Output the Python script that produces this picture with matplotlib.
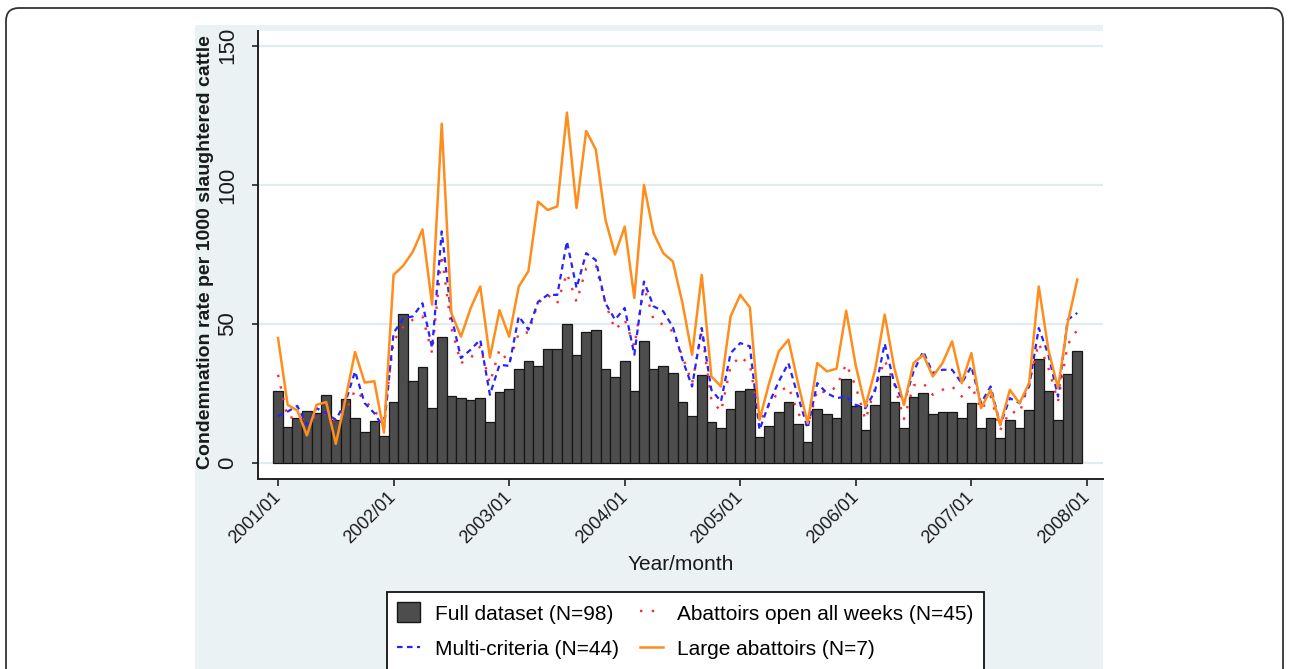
import matplotlib
matplotlib.use('Agg')
import matplotlib.pyplot as plt
import numpy as np
from matplotlib.patches import FancyBboxPatch, Rectangle, Patch
from matplotlib.lines import Line2D

plt.rcParams['font.family'] = ['Liberation Sans', 'DejaVu Sans']

# monthly values, 2001/01 .. 2007/12
tick_labels = ['2001/01', '2002/01', '2003/01', '2004/01',
               '2005/01', '2006/01', '2007/01', '2008/01']

full_dataset = [
    26.0, 12.9, 16.4, 18.7, 18.0, 24.4, 15.6, 23.0, 16.4, 11.2, 15.1, 9.8,
    22.2, 53.5, 29.6, 34.5, 20.0, 45.5, 24.3, 23.4, 22.8, 23.6, 15.0, 25.7,
    26.6, 33.8, 36.8, 34.8, 41.0, 41.0, 50.0, 39.0, 47.0, 48.0, 33.8, 31.0,
    36.8, 25.8, 44.1, 33.8, 34.8, 32.4, 22.2, 17.0, 31.8, 15.0, 12.6, 19.4,
    25.8, 26.6, 9.6, 13.4, 18.6, 22.2, 14.1, 7.8, 19.4, 17.7, 16.2, 30.3,
    20.7, 12.0, 20.8, 31.4, 22.2, 12.6, 23.7, 25.2, 17.7, 18.6, 18.6, 16.2,
    21.6, 12.6, 16.4, 9.2, 15.6, 12.6, 19.2, 37.5, 25.8, 15.6, 32.1, 40.4,
]

open_all_weeks = [
    31.8, 16.2, 16.8, 15.6, 16.8, 18.0, 15.0, 18.6, 26.3, 22.8, 18.6, 15.6,
    44.0, 49.0, 51.6, 52.8, 39.6, 75.0, 48.6, 36.0, 37.8, 42.0, 28.8, 40.8,
    36.0, 46.8, 47.0, 57.5, 60.5, 57.5, 68.3, 58.0, 70.0, 71.0, 57.5, 48.0,
    51.6, 42.0, 63.5, 51.6, 49.8, 47.4, 38.4, 28.8, 47.4, 22.8, 18.6, 34.8,
    38.4, 35.4, 15.0, 21.0, 25.8, 27.6, 18.0, 13.2, 26.4, 25.2, 27.5, 35.7,
    27.5, 15.6, 27.0, 37.0, 28.5, 15.9, 28.0, 28.8, 24.6, 26.4, 27.6, 24.0,
    28.2, 19.2, 24.0, 12.0, 18.6, 18.0, 28.8, 43.2, 34.2, 22.2, 42.6, 48.0,
]

multi_criteria = [
    17.0, 18.6, 20.6, 13.8, 19.8, 18.0, 15.6, 22.0, 33.0, 21.6, 18.0, 12.6,
    46.8, 52.0, 52.8, 57.5, 41.4, 83.3, 52.8, 37.8, 40.8, 44.4, 24.6, 35.4,
    35.0, 52.8, 48.0, 58.0, 60.5, 60.5, 79.7, 63.0, 75.5, 73.0, 57.5, 51.6,
    55.8, 39.0, 65.3, 56.4, 54.6, 49.0, 37.2, 27.6, 48.6, 26.4, 22.2, 39.6,
    43.2, 42.0, 12.0, 21.6, 29.4, 36.0, 24.0, 12.6, 28.8, 25.2, 23.4, 24.0,
    21.0, 19.8, 26.0, 43.0, 28.7, 21.6, 33.0, 40.2, 32.4, 33.6, 33.6, 28.8,
    34.8, 21.6, 27.6, 13.8, 23.4, 21.6, 27.6, 48.6, 39.0, 24.0, 51.6, 54.0,
]

large_abattoirs = [
    45.0, 21.0, 19.0, 10.0, 21.0, 22.0, 7.0, 23.0, 40.0, 29.0, 29.5, 11.0,
    67.7, 71.0, 76.0, 84.0, 57.0, 122.0, 54.0, 45.5, 55.7, 63.5, 38.0, 55.0,
    45.5, 63.5, 69.0, 94.0, 91.0, 92.3, 126.0, 91.7, 119.4, 112.7, 87.5, 75.0,
    85.0, 59.4, 100.0, 82.7, 75.5, 72.5, 57.5, 39.0, 67.7, 31.2, 27.6, 52.8,
    60.5, 56.0, 15.6, 28.8, 40.2, 44.4, 28.8, 14.4, 36.0, 33.0, 34.0, 54.8,
    35.0, 20.4, 33.5, 53.4, 34.2, 21.0, 36.0, 39.0, 31.2, 36.0, 43.8, 28.8,
    39.6, 19.8, 26.4, 13.8, 26.4, 21.6, 28.8, 63.5, 40.8, 27.0, 50.4, 66.0,
]

yticks = [0, 50, 100, 150]

months = np.arange(len(full_dataset))
tick_pos = np.arange(0, 12 * len(tick_labels), 12)

W, H = 1290, 669
fig = plt.figure(figsize=(W / 100, H / 100), dpi=100, facecolor='white')

# light graph region behind everything
fig.patches.append(Rectangle((195 / W, 0), 908 / W, 1 - 25 / H,
                             transform=fig.transFigure, facecolor='#EAF2F3',
                             edgecolor='none', zorder=-2))
# rounded outer frame (bottom cut off by the image edge)
fig.patches.append(FancyBboxPatch((0.06, -0.5), 12.77, 6.61 + 0.5,
                                  boxstyle='round,pad=0,rounding_size=0.13',
                                  transform=fig.dpi_scale_trans, fill=False,
                                  edgecolor='#333333', linewidth=1.3, zorder=-1))

ax = fig.add_axes([258 / W, 1 - 479 / H, 845 / W, 448 / H])
ax.set_facecolor('white')
ax.set_xlim(-2.08, 85.67)
ax.set_ylim(-5.64, 155.3)

for y in yticks:
    ax.axhline(y, color='#E2ECEF', linewidth=1.6, zorder=1)

ax.bar(months, full_dataset, width=1.0, color='#4d4d4d', edgecolor='#161616',
       linewidth=0.9, zorder=2)
ax.plot(months, open_all_weeks, color='#FF2A2A', linestyle=(0, (1, 4)),
        linewidth=1.7, zorder=3)
ax.plot(months, multi_criteria, color='#2424FF', linestyle=(0, (2.5, 2)),
        linewidth=1.6, zorder=4)
ax.plot(months, large_abattoirs, color='#FF8D1C', linewidth=1.8, zorder=5)

for side in ['top', 'right']:
    ax.spines[side].set_visible(False)
for side in ['left', 'bottom']:
    ax.spines[side].set_color('#222222')
    ax.spines[side].set_linewidth(1.4)

ax.set_xticks(tick_pos)
ax.set_xticklabels(tick_labels, rotation=45, ha='right', va='center',
                   rotation_mode='anchor', fontsize=13, color='#1a1a1a')
ax.set_yticks(yticks)
ax.set_yticklabels([str(v) for v in yticks], rotation=90, va='center',
                   fontsize=16, color='#1a1a1a')
ax.tick_params(axis='x', length=5, width=1.2, color='#222222', pad=6)
ax.tick_params(axis='y', length=4.5, width=1.2, color='#222222', pad=10)

fig.text(205 / W, 1 - 252 / H, 'Condemnation rate per 1000 slaughtered cattle',
         rotation=90, ha='center', va='center', fontsize=14, fontweight='bold',
         color='#1a1a1a')
fig.text(680.5 / W, 1 - 565 / H, 'Year/month', ha='center', va='center',
         fontsize=15, color='#1a1a1a')

handles = [
    Patch(facecolor='#4d4d4d', edgecolor='#161616', linewidth=1.0),
    Line2D([], [], color='#2424FF', linestyle=(0, (2.5, 2)), linewidth=1.6),
    Line2D([], [], color='#FF2A2A', linestyle=(0, (1, 4)), linewidth=1.7),
    Line2D([], [], color='#FF8D1C', linewidth=1.8),
]
labels = ['Full dataset (N=98)', 'Multi-criteria (N=44)',
          'Abattoirs open all weeks (N=45)', 'Large abattoirs (N=7)']
leg = fig.legend(handles, labels, ncol=2, loc='upper left',
                 bbox_to_anchor=(387 / W, 1 - 592 / H),
                 bbox_transform=fig.transFigure, fontsize=15,
                 frameon=True, fancybox=False, framealpha=1,
                 edgecolor='#111111', handlelength=1.1, handleheight=1.1,
                 handletextpad=0.7, columnspacing=1.0, borderpad=0.5,
                 labelspacing=0.7, borderaxespad=0)
leg.get_frame().set_linewidth(1.3)

fig.savefig('out.png', dpi=100, facecolor='white')
